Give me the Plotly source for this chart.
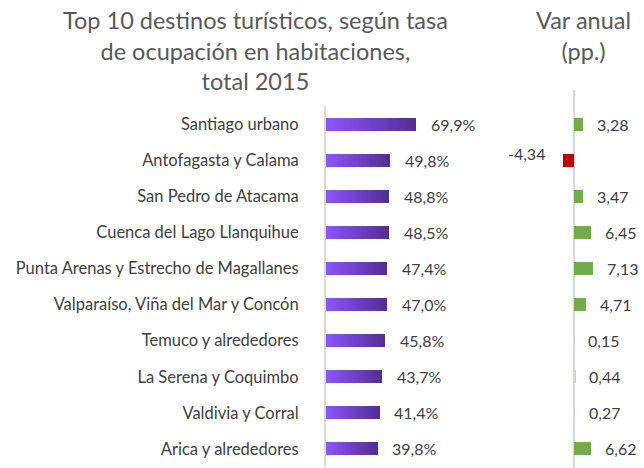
import plotly.graph_objects as go

categories = ["Santiago urbano", "Antofagasta y Calama", "San Pedro de Atacama",
              "Cuenca del Lago Llanquihue", "Punta Arenas y Estrecho de Magallanes",
              "Valparaíso, Viña del Mar y Concón", "Temuco y alrededores",
              "La Serena y Coquimbo", "Valdivia y Corral", "Arica y alrededores"]
ocupacion = [69.9, 49.8, 48.8, 48.5, 47.4, 47.0, 45.8, 43.7, 41.4, 39.8]
var_anual = [3.28, -4.34, 3.47, 6.45, 7.13, 4.71, 0.15, 0.44, 0.27, 6.62]

title_left = "Top 10 destinos turísticos, según tasa<br>de ocupación en habitaciones,<br>total 2015"
title_right = "Var anual<br>(pp.)"

FONT = "Lato"
TXT = "#404040"
W, H = 644, 468
LBL = 16.5
VAL = 16
TTL = 23.5

def lerp(c1, c2, t):
    return "rgb(%d,%d,%d)" % tuple(round(a + (b - a) * t) for a, b in zip(c1, c2))

c_start = (0x8E, 0x55, 0xFC)
c_end = (0x52, 0x2E, 0x96)
N = 40

fig = go.Figure()
for k in range(N):
    fig.add_trace(go.Bar(
        y=categories, x=[v / N for v in ocupacion], orientation="h",
        marker=dict(color=lerp(c_start, c_end, (k + 0.5) / N), line=dict(width=0)),
        width=0.36, xaxis="x", yaxis="y", showlegend=False, hoverinfo="skip"))

fig.add_trace(go.Bar(
    y=categories, x=var_anual, orientation="h",
    marker=dict(color=["#70AD47" if v >= 0.5 else ("#C00000" if v < 0 else "#C9D8BE") for v in var_anual],
                line=dict(width=0)),
    width=0.36, xaxis="x2", yaxis="y2", showlegend=False))

annotations = []
for c, v in zip(categories, ocupacion):
    annotations.append(dict(x=v, y=c, xref="x", yref="y", text=f"{v:.1f}%".replace(".", ","),
                            xanchor="left", xshift=13, showarrow=False,
                            font=dict(family=FONT, size=VAL, color=TXT)))
for c, v in zip(categories, var_anual):
    if v >= 0:
        annotations.append(dict(x=v, y=c, xref="x2", yref="y2", text=f"{v:.2f}".replace(".", ","),
                                xanchor="left", xshift=12, showarrow=False,
                                font=dict(family=FONT, size=VAL, color=TXT)))
    else:
        annotations.append(dict(x=v, y=c, xref="x2", yref="y2", text=f"{v:.2f}".replace(".", ","),
                                xanchor="right", xshift=-16, yshift=7, showarrow=False,
                                font=dict(family=FONT, size=VAL, color=TXT)))

annotations.append(dict(x=255 / W, y=1 - 4 / H, xref="paper", yref="paper", text=title_left,
                        xanchor="center", yanchor="top", showarrow=False, align="center",
                        font=dict(family=FONT, size=TTL, color="#595959")))
annotations.append(dict(x=583 / W, y=1 - 4 / H, xref="paper", yref="paper", text=title_right,
                        xanchor="center", yanchor="top", showarrow=False, align="center",
                        font=dict(family=FONT, size=TTL, color="#595959")))

x0L, x1L, zeroL, sL = 326, 470, 326, 1.29
x0R, x1R, zeroR, sR = 470, 644, 574, 2.6
ytop, ybot = 106, 467

fig.update_layout(
    width=W, height=H, margin=dict(l=0, r=0, t=0, b=0),
    paper_bgcolor="white", plot_bgcolor="white",
    barmode="stack", bargap=0.6,
    annotations=annotations,
    xaxis=dict(domain=[x0L / W, x1L / W], range=[(x0L - zeroL) / sL, (x1L - zeroL) / sL],
               showgrid=False, zeroline=False, showticklabels=False, showline=False, fixedrange=True),
    yaxis=dict(domain=[1 - ybot / H, 1 - ytop / H], autorange="reversed", anchor="x",
               showgrid=False, zeroline=False, showline=True, linecolor="#D9D9D9", linewidth=2,
               ticks="outside", ticklen=22, tickcolor="rgba(0,0,0,0)",
               tickfont=dict(family=FONT, size=LBL, color=TXT)),
    xaxis2=dict(domain=[x0R / W, x1R / W], range=[(x0R - zeroR) / sR, (x1R - zeroR) / sR],
                anchor="y2", showgrid=False, zeroline=False, showticklabels=False, fixedrange=True),
    yaxis2=dict(domain=[1 - ybot / H, 1 - ytop / H], autorange="reversed", anchor="x2",
                showgrid=False, zeroline=False, showticklabels=False, showline=False),
    shapes=[dict(type="line", xref="x2", yref="paper", x0=0, x1=0, y0=0, y1=1 - 90 / H,
                 line=dict(color="#D9D9D9", width=2), layer="below")],
)

fig.write_html("out.html", config={"displayModeBar": False},
               post_script="document.body.style.margin='0px';")
